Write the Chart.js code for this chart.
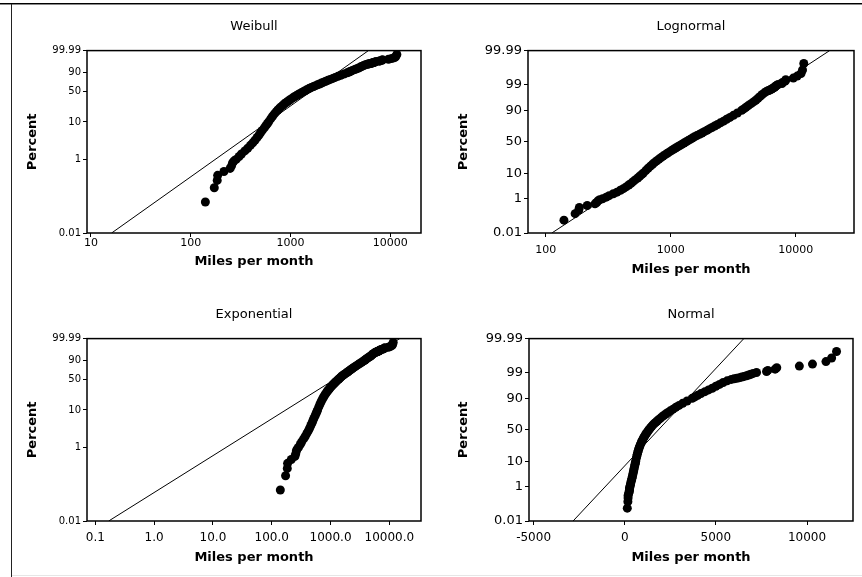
<!DOCTYPE html>
<html>
<head>
<meta charset="utf-8">
<script src="https://cdn.jsdelivr.net/npm/chart.js@4.4.1/dist/chart.umd.min.js"></script>
<style>
	body { margin: 0; background: #fff; width: 862px; height: 577px; position: relative; overflow: hidden; }
	.panel { position: absolute; }
	.rule { position: absolute; }
</style>
</head>
<body>
<div class="rule" style="left:0;top:3px;width:862px;height:1px;background:#000"></div>
<div class="rule" style="left:0;top:4px;width:862px;height:1px;background:#888"></div>
<div class="rule" style="left:11px;top:4px;width:1px;height:573px;background:#222"></div>
<div class="rule" style="left:12px;top:575px;width:850px;height:1px;background:#e6e6e6"></div>

<div class="panel" style="left:12px;top:10px"><canvas id="weibull" width="419" height="275"></canvas></div>
<div class="panel" style="left:443px;top:10px"><canvas id="lognormal" width="419" height="275"></canvas></div>
<div class="panel" style="left:12px;top:298px"><canvas id="exponential" width="419" height="275"></canvas></div>
<div class="panel" style="left:443px;top:298px"><canvas id="normal" width="419" height="275"></canvas></div>

<script>
// same sample in all four plots: miles per month and its plotting position (percent)
let percent = [0.07, 0.17, 0.27, 0.37, 0.47, 0.57, 0.67, 0.8, 0.9, 1.0, 1.2, 1.4, 1.7, 2.0, 2.4, 2.8, 3.3, 3.9, 4.5, 5.2,
	6.0, 7.0, 8.0, 9.0, 10, 12, 14, 16, 18, 20, 22, 24, 26, 28, 30, 32, 34, 36, 38, 40, 42, 44, 46, 48, 50, 52, 54, 56, 58, 60,
	62, 64, 66, 68, 70, 72, 74, 76, 78, 80, 82, 84, 86, 88, 90, 91, 92, 93, 94, 94.8, 95.5, 96.2, 96.8, 97.3, 97.7, 98.0,
	98.13, 98.23, 98.33, 98.43, 98.53, 98.63, 98.73, 98.83, 98.93, 99.03, 99.13, 99.23, 99.33, 99.43, 99.53, 99.63, 99.73, 99.83, 99.93]
let miles = [140, 172, 184, 186, 215, 248, 256, 262, 270, 285, 305, 322, 348, 372, 396, 418, 440, 462, 482, 500,
	520, 545, 565, 585, 602, 632, 660, 688, 716, 745, 775, 806, 838, 870, 905, 940, 978, 1015, 1055, 1095, 1140, 1185, 1230, 1280, 1330, 1380, 1435, 1490, 1550, 1620,
	1700, 1780, 1860, 1950, 2040, 2140, 2250, 2370, 2500, 2650, 2800, 2980, 3180, 3420, 3700, 3850, 4000, 4180, 4400, 4600, 4800, 5000, 5200, 5400, 5620, 5850,
	6000, 6150, 6300, 6420, 6550, 6680, 6800, 6920, 7050, 7230, 7780, 7850, 8250, 8340, 9580, 10300, 11040, 11350, 11620]

// fitted lines, drawn from 0.01 to 99.99 percent
let fitPercent = [0.01, 99.99]
let weibullFit = [16.1, 6030]
let lognormalFit = [112, 18700]
let exponentialFit = [0.169, 15000]
let normalFit = [-2833, 6533]

// tick labels
let weibullTicks = [10, 100, 1000, 10000]
let lognormalTicks = [100, 1000, 10000]
let exponentialTicks = [0.1, 1, 10, 100, 1000, 10000]
let exponentialLabels = ['0.1', '1.0', '10.0', '100.0', '1000.0', '10000.0']
let normalTicks = [-5000, 0, 5000, 10000]
let pctTicksShort = [0.01, 1, 10, 50, 90, 99.99]
let pctTicksLong = [0.01, 1, 10, 50, 90, 99, 99.99]

const FONT = "'DejaVu Sans', sans-serif"

// probability paper transforms
function weibullY(p) {
	return Math.log(-Math.log(1 - p / 100))
}

function normalY(p) { // inverse normal cdf (Acklam)
	p = p / 100
	const a = [-3.969683028665376e+01, 2.209460984245205e+02, -2.759285104469687e+02, 1.383577518672690e+02, -3.066479806614716e+01, 2.506628277459239e+00]
	const b = [-5.447609879822406e+01, 1.615858368580409e+02, -1.556989798598866e+02, 6.680131188771972e+01, -1.328068155327863e+01]
	const c = [-7.784894002430293e-03, -3.223964580411365e-01, -2.400758277161838e+00, -2.549732539343734e+00, 4.374664141464968e+00, 2.938163982698783e+00]
	const d = [7.784695709041462e-03, 3.224671290700398e-01, 2.445134137142996e+00, 3.754408661907416e+00]
	let q, r
	if (p < 0.02425) {
		q = Math.sqrt(-2 * Math.log(p))
		return (((((c[0] * q + c[1]) * q + c[2]) * q + c[3]) * q + c[4]) * q + c[5]) / ((((d[0] * q + d[1]) * q + d[2]) * q + d[3]) * q + 1)
	}
	if (p > 1 - 0.02425) {
		q = Math.sqrt(-2 * Math.log(1 - p))
		return -(((((c[0] * q + c[1]) * q + c[2]) * q + c[3]) * q + c[4]) * q + c[5]) / ((((d[0] * q + d[1]) * q + d[2]) * q + d[3]) * q + 1)
	}
	q = p - 0.5
	r = q * q
	return (((((a[0] * r + a[1]) * r + a[2]) * r + a[3]) * r + a[4]) * r + a[5]) * q / (((((b[0] * r + b[1]) * r + b[2]) * r + b[3]) * r + b[4]) * r + 1)
}

const frame = {
	id: 'frame',
	afterDraw(chart) {
		const a = chart.chartArea
		const ctx = chart.ctx
		ctx.save()
		ctx.strokeStyle = '#000'
		ctx.lineWidth = 1.5
		ctx.strokeRect(a.left, a.top, a.right - a.left, a.bottom - a.top)
		ctx.restore()
	}
}

function makePlot(id, p) {
	let yTicks = p.pctTicks
	new Chart(document.getElementById(id), {
		type: 'scatter',
		data: {
			datasets: [{
				data: miles.map((m, i) => ({ x: m, y: p.tf(percent[i]) })),
				backgroundColor: '#000',
				borderWidth: 0,
				pointRadius: 4.5,
				order: 0
			}, {
				type: 'line',
				data: p.fit.map((m, i) => ({ x: m, y: p.tf(fitPercent[i]) })),
				borderColor: '#000',
				borderWidth: 1,
				pointRadius: 0,
				order: 1
			}]
		},
		plugins: [frame],
		options: {
			responsive: false,
			animation: false,
			devicePixelRatio: 1,
			layout: { padding: { left: 0, top: 0, right: p.padR, bottom: p.padB } },
			plugins: {
				legend: { display: false },
				tooltip: { enabled: false },
				title: {
					display: true,
					text: p.title,
					fullSize: false,
					color: '#000',
					font: { family: FONT, size: 13, weight: 'normal' },
					padding: { top: 9, bottom: 16 }
				}
			},
			scales: {
				x: {
					type: p.xType,
					min: p.xMin,
					max: p.xMax,
					afterBuildTicks: s => { s.ticks = p.xTicks.map(v => ({ value: v })) },
					afterFit: s => { s.height = p.xH },
					ticks: {
						autoSkip: false,
						maxRotation: 0,
						color: '#000',
						padding: p.xTickPad,
						font: { family: FONT, size: p.xTickSize },
						callback: (v, i) => p.xLabels[i]
					},
					grid: { drawOnChartArea: false, tickLength: 4, color: '#000' },
					border: { display: false },
					title: {
						display: true,
						text: 'Miles per month',
						color: '#000',
						font: { family: FONT, size: 13, weight: 'bold' },
						padding: { top: 0, bottom: 0 }
					}
				},
				y: {
					type: 'linear',
					min: p.tf(0.01),
					max: p.tf(99.99),
					afterBuildTicks: s => { s.ticks = yTicks.map(v => ({ value: p.tf(v) })) },
					afterFit: s => { s.width = p.yW },
					ticks: {
						autoSkip: false,
						color: '#000',
						padding: 2,
						font: { family: FONT, size: p.yTickSize },
						callback: (v, i) => String(yTicks[i])
					},
					grid: { drawOnChartArea: false, tickLength: 4, color: '#000' },
					border: { display: false },
					title: {
						display: true,
						text: 'Percent',
						color: '#000',
						font: { family: FONT, size: 13, weight: 'bold' },
						padding: { top: 13, bottom: 0 }
					}
				}
			}
		}
	})
}

makePlot('weibull', {
	title: 'Weibull', tf: weibullY, fit: weibullFit, pctTicks: pctTicksShort,
	xType: 'logarithmic', xMin: 9.12, xMax: 20280, xTicks: weibullTicks, xLabels: weibullTicks.map(String),
	yW: 75, padR: 10, padB: 16, xH: 36, xTickPad: 0, xTickSize: 11, yTickSize: 10
})
makePlot('lognormal', {
	title: 'Lognormal', tf: normalY, fit: lognormalFit, pctTicks: pctTicksLong,
	xType: 'logarithmic', xMin: 72.2, xMax: 29300, xTicks: lognormalTicks, xLabels: lognormalTicks.map(String),
	yW: 85, padR: 8, padB: 8, xH: 44, xTickPad: 7, xTickSize: 11, yTickSize: 13
})
makePlot('exponential', {
	title: 'Exponential', tf: weibullY, fit: exponentialFit, pctTicks: pctTicksShort,
	xType: 'logarithmic', xMin: 0.0723, xMax: 34500, xTicks: exponentialTicks, xLabels: exponentialLabels,
	yW: 75, padR: 10, padB: 8, xH: 44, xTickPad: 6, xTickSize: 12, yTickSize: 10
})
makePlot('normal', {
	title: 'Normal', tf: normalY, fit: normalFit, pctTicks: pctTicksLong,
	xType: 'linear', xMin: -5252, xMax: 12523, xTicks: normalTicks, xLabels: normalTicks.map(String),
	yW: 86, padR: 9, padB: 8, xH: 44, xTickPad: 6, xTickSize: 12, yTickSize: 13
})
</script>
</body>
</html>
